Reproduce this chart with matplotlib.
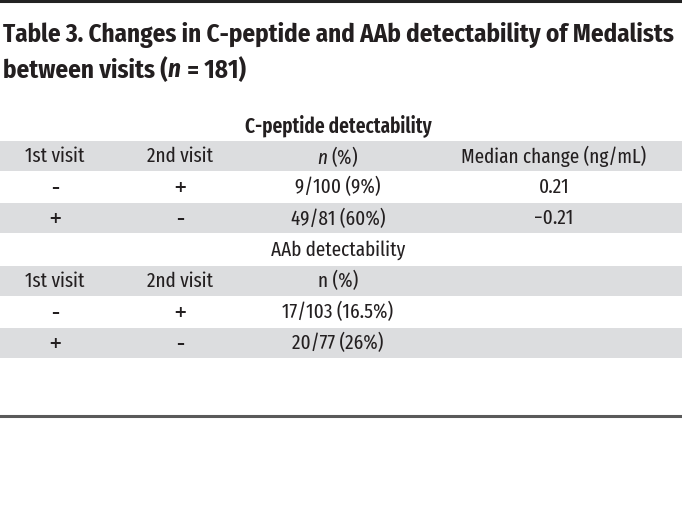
import matplotlib
matplotlib.use("Agg")
import matplotlib.pyplot as plt
from matplotlib.patches import Rectangle

# table content
title_lines = ["Table 3. Changes in C-peptide and AAb detectability of Medalists",
               "between visits (", "n", " = 181)"]
sections = ["C-peptide detectability", "AAb detectability"]
headers = [["1st visit", "2nd visit", "$\\mathit{n}$ (%)", "Median change (ng/mL)"],
           ["1st visit", "2nd visit", "n (%)", ""]]
first_visit = ["\u2013", "+"]
second_visit = ["+", "\u2013"]
cpep_n = ["9/100 (9%)", "49/81 (60%)"]
cpep_median = ["0.21", "\u22120.21"]
aab_n = ["17/103 (16.5%)", "20/77 (26%)"]
aab_median = ["", ""]

body_font = "Fira Sans Extra Condensed"
title_font = "Fira Sans Condensed"
plt.rcParams['font.family'] = [body_font, 'DejaVu Sans']
plt.rcParams['mathtext.fontset'] = 'custom'
plt.rcParams['mathtext.it'] = body_font + ':italic'
plt.rcParams['mathtext.rm'] = body_font

W, H = 682, 532
fig = plt.figure(figsize=(W / 100, H / 100), dpi=100)
ax = fig.add_axes([0, 0, 1, 1])
ax.set_xlim(0, W)
ax.set_ylim(H, 0)
ax.axis('off')

txt = '#231f20'
band = '#dcdddf'
col_x = [55, 180, 338, 554]
row_h = 31.2
table_top = 109

# rules
ax.axhline(1, color='#222222', lw=2.2)
ax.axhline(415.5, color='#5a5a5a', lw=2.2)

# title, second line assembled piece by piece for the italic n
tkw = dict(fontsize=18, fontweight='bold', color=txt, ha='left', va='center',
           family=[title_font, 'DejaVu Sans'])
ax.text(3, 34.5, title_lines[0], **tkw)
x = 3
for part in title_lines[1:]:
    t = ax.text(x, 70, part, style='italic' if part == "n" else 'normal', **tkw)
    fig.canvas.draw()
    x = t.get_window_extent().transformed(ax.transData.inverted()).x1 + (1 if part == "n" else 0)

body_rows = [
    (sections[0], None),
    (headers[0], 'band'),
    ([first_visit[0], second_visit[0], cpep_n[0], cpep_median[0]], None),
    ([first_visit[1], second_visit[1], cpep_n[1], cpep_median[1]], 'band'),
    (sections[1], None),
    (headers[1], 'band'),
    ([first_visit[0], second_visit[0], aab_n[0], aab_median[0]], None),
    ([first_visit[1], second_visit[1], aab_n[1], aab_median[1]], 'band'),
]
signs = {"+", "\u2013"}

for r, (cells, style) in enumerate(body_rows):
    y0 = table_top + r * row_h
    yc = y0 + row_h / 2 + 0.5
    if style == 'band':
        ax.add_patch(Rectangle((0, y0 + 0.5), W, row_h - 1, color=band, lw=0))
    if isinstance(cells, str):
        ax.text(col_x[2], yc, cells, fontsize=15, color=txt, ha='center', va='center',
                fontweight='semibold' if r == 0 else 'normal')
    else:
        for xc, c in zip(col_x, cells):
            if c in signs:
                ax.text(xc, yc, c, fontsize=11.5, color=txt, ha='center', va='center',
                        family='DejaVu Sans', fontweight='bold')
            else:
                ax.text(xc, yc, c, fontsize=15, color=txt, ha='center', va='center')

fig.savefig("out.png", dpi=100)
